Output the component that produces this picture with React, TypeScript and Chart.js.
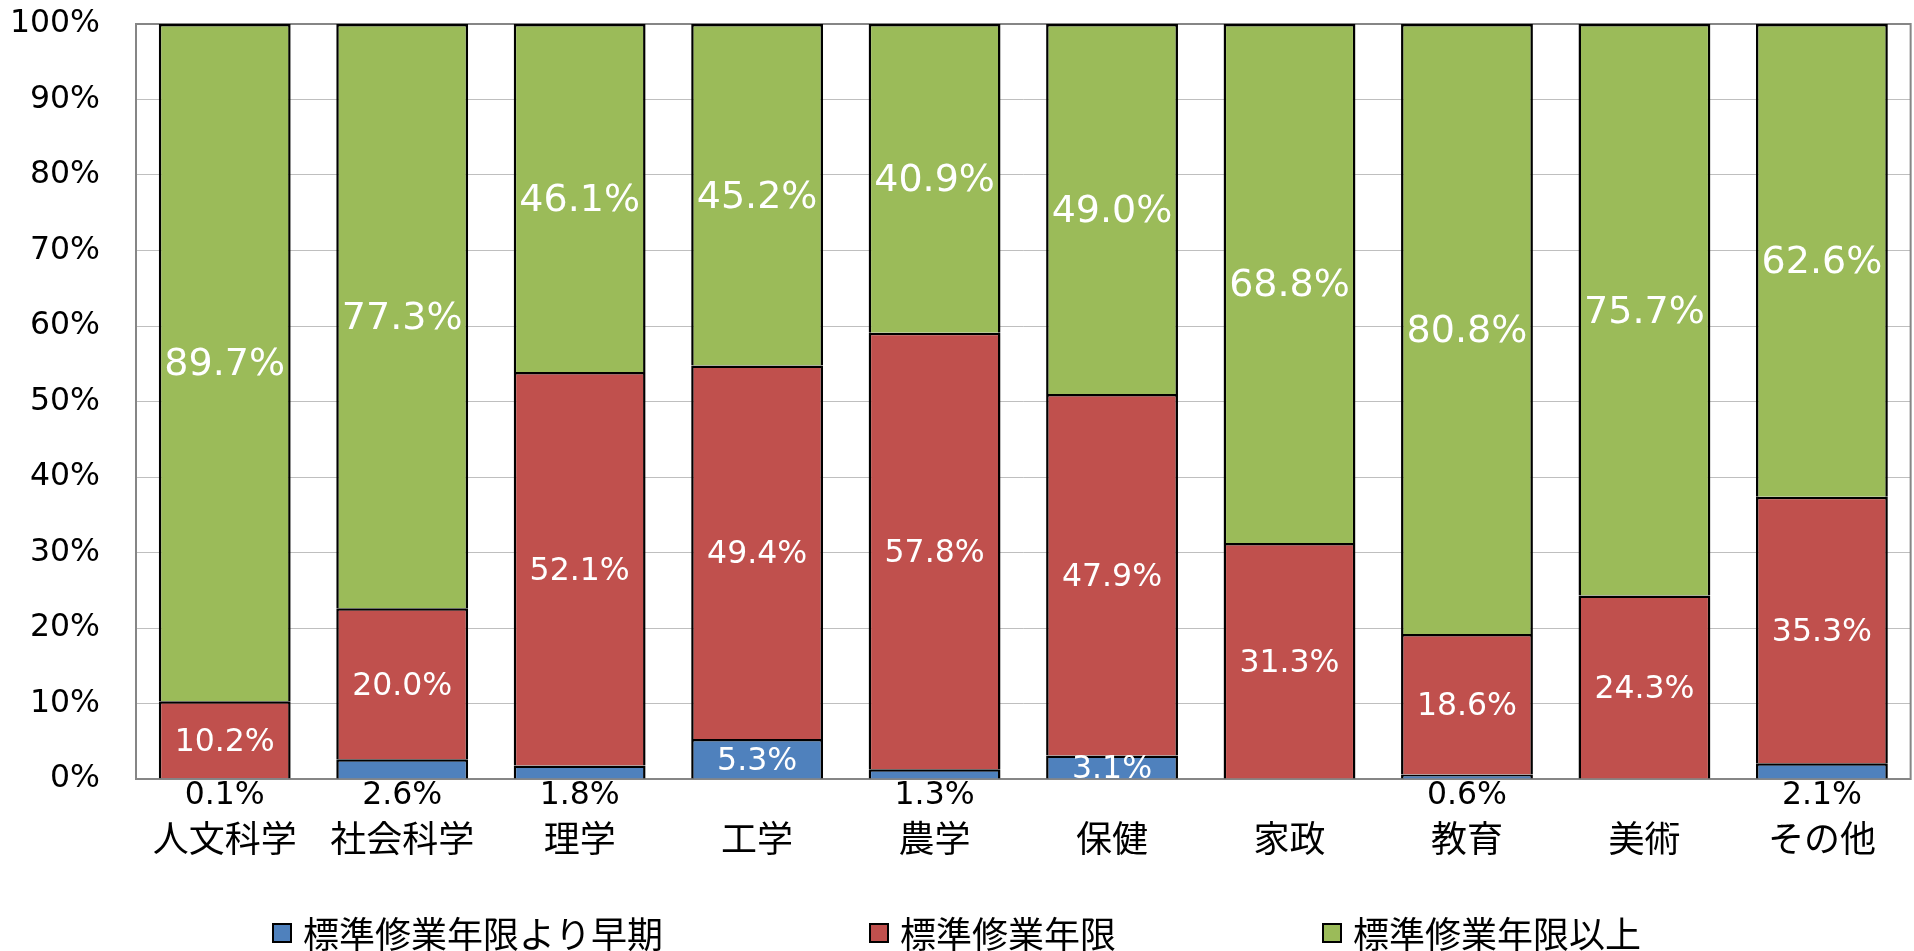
import React, { useEffect, useRef } from 'react';
import { Chart, registerables } from 'chart.js';

Chart.register(...registerables);

const categories = ['人文科学', '社会科学', '理学', '工学', '農学', '保健', '家政', '教育', '美術', 'その他'];
const seriesNames = ['標準修業年限より早期', '標準修業年限', '標準修業年限以上'];
const earlyValues = [0.1, 2.6, 1.8, 5.3, 1.3, 3.1, 0, 0.6, 0, 2.1];
const standardValues = [10.2, 20.0, 52.1, 49.4, 57.8, 47.9, 31.3, 18.6, 24.3, 35.3];
const beyondValues = [89.7, 77.3, 46.1, 45.2, 40.9, 49.0, 68.8, 80.8, 75.7, 62.6];
const seriesColors = ['#4F81BD', '#C0504D', '#9BBB59'];
const yTickValues = [0, 10, 20, 30, 40, 50, 60, 70, 80, 90, 100];

const rawSeries = [earlyValues, standardValues, beyondValues];

const NUM_FONT = '"DejaVu Sans", Verdana, sans-serif';
const CJK_FONT = '"Noto Sans CJK JP", "Noto Sans CJK SC", sans-serif';

const framePlugin = {
  id: 'frame',
  beforeDatasetsDraw(chart: any) {
    const { ctx, chartArea: a } = chart;
    ctx.save();
    ctx.strokeStyle = '#868686';
    ctx.lineWidth = 2;
    ctx.strokeRect(a.left, a.top, a.right - a.left, a.bottom - a.top);
    ctx.restore();
  },
};

const labelPlugin = {
  id: 'valueLabels',
  afterDatasetsDraw(chart: any) {
    const { ctx, chartArea: area } = chart;
    rawSeries.forEach((vals, di) => {
      const meta = chart.getDatasetMeta(di);
      meta.data.forEach((el: any, i: number) => {
        const v = vals[i];
        if (!v) return;
        const p = el.getProps(['x', 'y', 'base'], true);
        const text = v.toFixed(1) + '%';
        ctx.save();
        ctx.textAlign = 'center';
        ctx.textBaseline = 'middle';
        if (di === 0 && v < 3) {
          ctx.fillStyle = '#000000';
          ctx.font = `31.5px ${NUM_FONT}`;
          ctx.fillText(text, p.x, area.bottom + 17);
        } else {
          ctx.beginPath();
          ctx.rect(area.left, area.top, area.right - area.left, area.bottom - area.top - 1);
          ctx.clip();
          ctx.fillStyle = '#FFFFFF';
          ctx.font = di === 2 ? `38px ${NUM_FONT}` : `31.5px ${NUM_FONT}`;
          ctx.fillText(text, p.x, (p.y + p.base) / 2 + 3);
        }
        ctx.restore();
      });
    });
  },
};

const legendPlugin = {
  id: 'customLegend',
  afterDraw(chart: any) {
    const { ctx } = chart;
    const box = 18;
    const boxGap = 12;
    const itemGap = 207;
    ctx.save();
    ctx.font = `36px ${CJK_FONT}`;
    const widths = seriesNames.map((n) => ctx.measureText(n).width);
    const total = widths.reduce((s, w) => s + box + boxGap + w, 0) + itemGap * (seriesNames.length - 1);
    let x = chart.width / 2 - total / 2;
    const yc = chart.height - 18;
    seriesNames.forEach((name, i) => {
      ctx.fillStyle = seriesColors[i];
      ctx.fillRect(x, yc - box / 2, box, box);
      ctx.strokeStyle = '#000000';
      ctx.lineWidth = 2;
      ctx.strokeRect(x, yc - box / 2, box, box);
      ctx.fillStyle = '#000000';
      ctx.textAlign = 'left';
      ctx.textBaseline = 'middle';
      ctx.fillText(name, x + box + boxGap, yc + 1);
      x += box + boxGap + widths[i] + itemGap;
    });
    ctx.restore();
  },
};

export default function App() {
  const canvasRef = useRef<HTMLCanvasElement | null>(null);

  useEffect(() => {
    if (!canvasRef.current) return;
    const totals = categories.map((_, i) => earlyValues[i] + standardValues[i] + beyondValues[i]);
    const datasets = rawSeries.map((vals, di) => ({
      label: seriesNames[di],
      data: vals.map((v, i) => (v / totals[i]) * 100),
      backgroundColor: seriesColors[di],
      borderColor: '#000000',
      borderWidth: 2.5,
      categoryPercentage: 1,
      barPercentage: 0.743,
    }));
    const chart = new Chart(canvasRef.current, {
      type: 'bar',
      data: { labels: categories, datasets },
      options: {
        responsive: false,
        animation: false,
        devicePixelRatio: 1,
        layout: { padding: { top: 24, right: 2, bottom: 72, left: 0 } },
        plugins: {
          legend: { display: false },
          tooltip: { enabled: false },
        },
        scales: {
          x: {
            stacked: true,
            grid: { display: false, drawTicks: false },
            border: { display: true, color: '#868686', width: 2 },
            ticks: {
              color: '#000000',
              padding: 38,
              font: { family: CJK_FONT, size: 36 },
              maxRotation: 0,
              autoSkip: false,
            },
            afterFit: (scale: any) => {
              scale.height = 100;
            },
          },
          y: {
            stacked: true,
            min: 0,
            max: 100,
            afterBuildTicks: (scale: any) => {
              scale.ticks = yTickValues.map((v) => ({ value: v }));
            },
            grid: {
              color: '#BFBFBF',
              lineWidth: 1,
              drawTicks: true,
              tickLength: 36,
              tickColor: 'rgba(0,0,0,0)',
            },
            border: { display: true, color: '#868686', width: 2 },
            ticks: {
              color: '#000000',
              padding: 0,
              font: { family: NUM_FONT, size: 31.5 },
              callback: (v: any) => v + '%',
            },
            afterFit: (scale: any) => {
              scale.width = 136;
            },
          },
        },
      },
      plugins: [framePlugin, labelPlugin, legendPlugin],
    });
    return () => chart.destroy();
  }, []);

  return (
    <div style={{ position: 'fixed', left: 0, top: 0, width: 1914, height: 951, background: '#FFFFFF' }}>
      <canvas ref={canvasRef} width={1914} height={951} style={{ display: 'block', width: 1914, height: 951 }} />
    </div>
  );
}
